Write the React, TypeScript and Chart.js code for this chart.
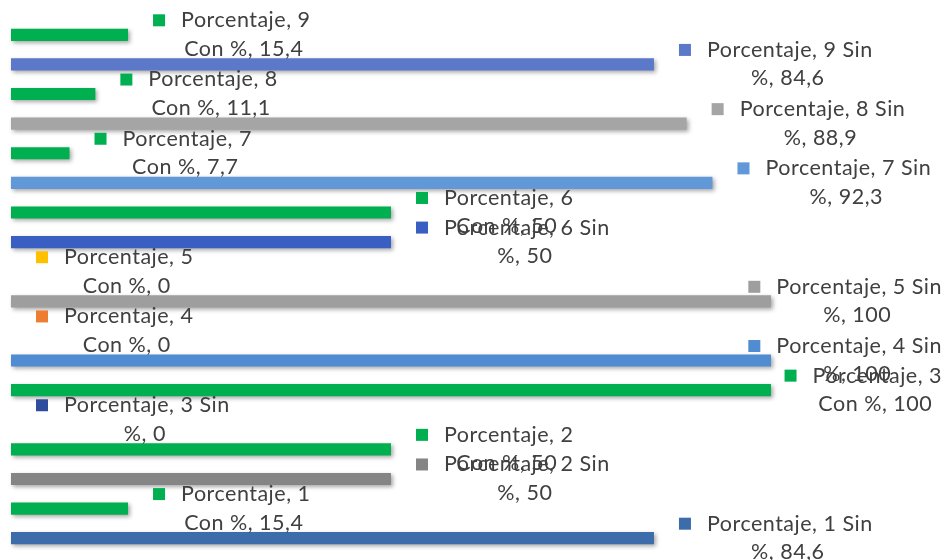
import React, { useEffect, useRef } from "react";
import { Chart, registerables } from "chart.js";

Chart.register(...registerables);

const categories = [
  "Porcentaje, 9",
  "Porcentaje, 8",
  "Porcentaje, 7",
  "Porcentaje, 6",
  "Porcentaje, 5",
  "Porcentaje, 4",
  "Porcentaje, 3",
  "Porcentaje, 2",
  "Porcentaje, 1",
];
const conValues = [15.4, 11.1, 7.7, 50, 0, 0, 100, 50, 15.4];
const sinValues = [84.6, 88.9, 92.3, 50, 100, 100, 0, 50, 84.6];
const conColors = [
  "#00b050",
  "#00b050",
  "#00b050",
  "#00b050",
  "#ffc000",
  "#ed7d31",
  "#00b050",
  "#00b050",
  "#00b050",
];
const sinColors = [
  "#5b78c9",
  "#a5a5a5",
  "#6098d8",
  "#3a5fc2",
  "#9e9e9e",
  "#4f8cd2",
  "#2f4d9c",
  "#858585",
  "#3c6caa",
];
const seriesNames = ["Con %", "Sin %"];

const fmt = (v: number) => String(v).replace(".", ",");

const FONT = "21.5px Lato, 'Open Sans', sans-serif";

const shadowPlugin = {
  id: "barShadow",
  beforeDatasetsDraw(chart: any) {
    const ctx = chart.ctx;
    ctx.save();
    ctx.shadowColor = "rgba(0,0,0,0.35)";
    ctx.shadowBlur = 4;
    ctx.shadowOffsetX = 2;
    ctx.shadowOffsetY = 2;
  },
  afterDatasetsDraw(chart: any) {
    chart.ctx.restore();
  },
};

const labelPlugin = {
  id: "calloutLabels",
  afterDraw(chart: any) {
    const ctx = chart.ctx;
    const W = chart.width;
    ctx.save();
    ctx.font = FONT;
    try {
      (ctx as any).letterSpacing = "0.5px";
    } catch (e) {}
    ctx.textBaseline = "middle";
    chart.data.datasets.forEach((ds: any, di: number) => {
      const meta = chart.getDatasetMeta(di);
      meta.data.forEach((bar: any, i: number) => {
        const v = ds.data[i];
        const cat = categories[i];
        let line1: string;
        let line2: string;
        if (di === 0) {
          line1 = cat;
          line2 = seriesNames[0] + ", " + fmt(v);
        } else {
          line1 = cat + " Sin";
          line2 = "%, " + fmt(v);
        }
        const t1w = ctx.measureText(line1).width;
        const boxW = 28 + t1w;
        let left = bar.x + 25;
        if (left + boxW > W - 4) left = W - 4 - boxW;
        const cy = bar.y;
        const y1 = cy - 14.5;
        const y2 = cy + 14;
        ctx.fillStyle = ds.backgroundColor[i];
        ctx.fillRect(left, y1 - 6, 12, 12);
        ctx.fillStyle = "#404040";
        ctx.textAlign = "left";
        ctx.fillText(line1, left + 28, y1);
        ctx.textAlign = "center";
        ctx.fillText(line2, left + boxW / 2 + 12, y2);
      });
    });
    ctx.restore();
  },
};

export default function App() {
  const ref = useRef<HTMLCanvasElement | null>(null);
  useEffect(() => {
    if (!ref.current) return;
    const chart = new Chart(ref.current, {
      type: "bar",
      data: {
        labels: categories,
        datasets: [
          {
            label: seriesNames[0],
            data: conValues,
            backgroundColor: conColors,
            categoryPercentage: 1,
            barPercentage: 0.41,
            clip: false as any,
          },
          {
            label: seriesNames[1],
            data: sinValues,
            backgroundColor: sinColors,
            categoryPercentage: 1,
            barPercentage: 0.41,
            clip: false as any,
          },
        ],
      },
      options: {
        indexAxis: "y",
        animation: false,
        responsive: true,
        maintainAspectRatio: false,
        layout: { padding: { left: 11, right: 175, top: 20, bottom: 7 } },
        scales: {
          x: { min: 0, max: 100, display: false },
          y: { display: false },
        },
        plugins: {
          legend: { display: false },
          tooltip: { enabled: false },
        },
      },
      plugins: [shadowPlugin, labelPlugin],
    });
    return () => chart.destroy();
  }, []);
  return (
    <div
      style={{
        position: "fixed",
        left: 0,
        top: 0,
        width: 946,
        height: 560,
        background: "#ffffff",
      }}
    >
      <canvas ref={ref} />
    </div>
  );
}
